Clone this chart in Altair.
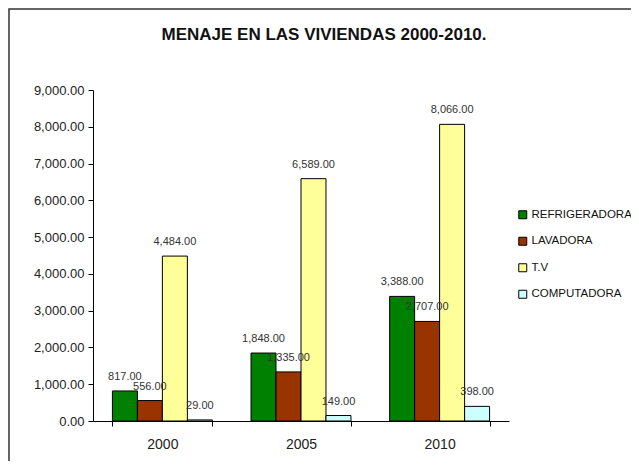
import altair as alt
import pandas as pd

years = ["2000", "2005", "2010"]
series = ["REFRIGERADORA", "LAVADORA", "T.V", "COMPUTADORA"]
refrigeradora = [817, 1848, 3388]
lavadora = [556, 1335, 2707]
tv = [4484, 6589, 8066]
computadora = [29, 149, 398]
colors = ["#008000", "#993300", "#FFFF99", "#CCFFFF"]
y_ticks = [0, 1000, 2000, 3000, 4000, 5000, 6000, 7000, 8000, 9000]

rows = []
for s, vals in zip(series, [refrigeradora, lavadora, tv, computadora]):
    for yr, v in zip(years, vals):
        rows.append({"year": yr, "serie": s, "value": v})
df = pd.DataFrame(rows)

FONT = "Liberation Sans"
W, H = 416, 331

x = alt.X("year:N", title=None,
          scale=alt.Scale(paddingInner=0.279, paddingOuter=0.14),
          axis=alt.Axis(labelAngle=0, tickBand="extent", labelFontSize=14,
                        labelPadding=11, tickSize=5, domainColor="black",
                        tickColor="black", labelColor="#222", labelFont=FONT))
xo = alt.XOffset("serie:N", sort=series,
                 scale=alt.Scale(paddingInner=0, paddingOuter=0))
y = alt.Y("value:Q", title=None,
          scale=alt.Scale(domain=[0, 9000], nice=False),
          axis=alt.Axis(values=y_ticks, format=",.2f", grid=False, tickSize=5,
                        labelFontSize=13, labelPadding=4, domainColor="black",
                        tickColor="black", labelColor="#222", labelFont=FONT))

bars = alt.Chart(df).mark_bar(stroke="black", strokeWidth=1).encode(
    x=x, xOffset=xo, y=y,
    color=alt.Color("serie:N", sort=series, title=None,
                    scale=alt.Scale(domain=series, range=colors),
                    legend=alt.Legend(orient="none", legendX=424, legendY=119,
                                      symbolType="square", symbolSize=64,
                                      symbolStrokeColor="black", symbolStrokeWidth=1,
                                      labelFontSize=11.5, labelFont=FONT,
                                      labelColor="#111", labelLimit=0,
                                      rowPadding=13.5, labelOffset=3, padding=0)),
)

labels = alt.Chart(df).mark_text(dy=-11, baseline="alphabetic", fontSize=11,
                                 font=FONT, color="#333").encode(
    x=x, xOffset=xo, y=y,
    text=alt.Text("value:Q", format=",.2f"),
)

frame_df = pd.DataFrame({"a": [0]})
frame = alt.Chart(frame_df).mark_rect(filled=False, stroke="#333", strokeWidth=1.5).encode(
    x=alt.value(-84), x2=alt.value(W + 300),
    y=alt.value(-81), y2=alt.value(H + 200),
)

chart = alt.layer(bars, labels, frame).properties(
    width=W, height=H,
    autosize=alt.AutoSizeParams(type="none"),
    padding={"left": 85, "top": 82, "right": 122, "bottom": 40},
    title=alt.TitleParams("MENAJE EN LAS VIVIENDAS 2000-2010.", fontSize=17,
                          fontWeight="bold", font=FONT, anchor="middle",
                          dx=23, offset=-36, color="#111"),
).configure_view(stroke=None)

chart.save("out.html", embed_options={"renderer": "svg", "actions": False})
